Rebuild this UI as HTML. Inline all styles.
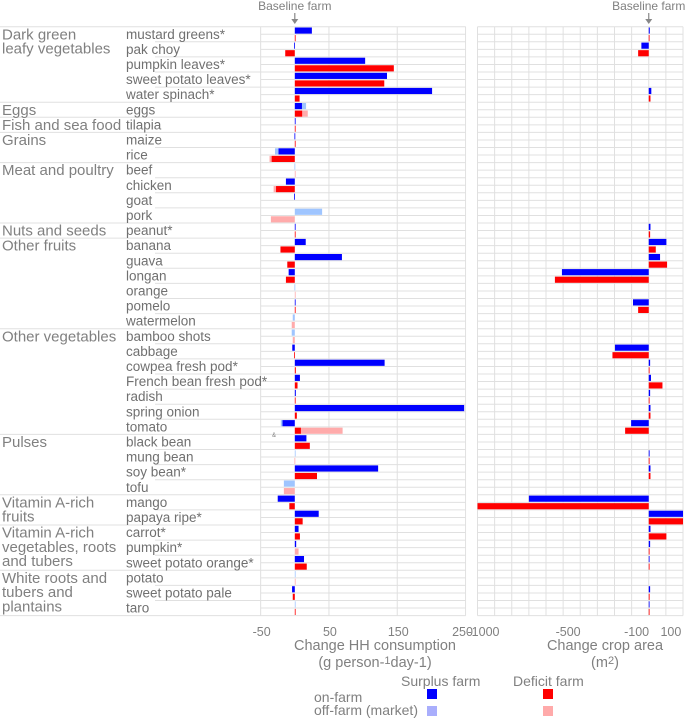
<!DOCTYPE html>
<html><head><meta charset="utf-8"><style>
html,body{margin:0;padding:0;background:#fff;}
svg{display:block;font-family:"Liberation Sans",Arial,sans-serif;}
</style></head><body>
<svg id="chart" width="685" height="719" viewBox="0 0 685 719"></svg>
<script>
const items=["mustard greens*","pak choy","pumpkin leaves*","sweet potato leaves*","water spinach*","eggs","tilapia","maize","rice","beef","chicken","goat","pork","peanut*","banana","guava","longan","orange","pomelo","watermelon","bamboo shots","cabbage","cowpea fresh pod*","French bean fresh pod*","radish","spring onion","tomato","black bean","mung bean","soy bean*","tofu","mango","papaya ripe*","carrot*","pumpkin*","sweet potato orange*","potato","sweet potato pale","taro"];
const groupNames=["Dark green|leafy vegetables","Eggs","Fish and sea food","Grains","Meat and poultry","Nuts and seeds","Other fruits","Other vegetables","Pulses","Vitamin A-rich|fruits","Vitamin A-rich|vegetables, roots|and tubers","White roots and|tubers and|plantains"];
const groupStart=[0,5,6,7,9,13,14,20,27,31,33,36];
const surplusOn=[25,-1,103,135,201,10.5,0.5,-0.5,-24,0,-13,-1,0,1,16,69,-9,0,0.5,0,0,-3.7,131.5,7.5,1.5,248,-18,17,0,122,0,-25,35,5.5,2,13.5,0,-4,0];
const surplusOff=[0,0,0,0,0,6,0,0,-5,-0.5,0,0,40,0,0,0,0,-0.5,0,-3,-4.5,0,0,0,0,0,-2.5,0,0.5,0,-16,0,0,0,0,0,0.5,0,0.5];
const deficitOn=[1,-14,145,131,7,11,0.5,1,-34,0,-27.5,0,0,0.5,-21,-11,-13,0,0.5,0,0,-1,1.5,4,0.5,3,9,22,0,32.5,0,-8,11.5,7.5,0,17.5,0,-3,0.5];
const deficitOff=[0,0,0,0,0,8,0,0,-3,0.5,-3.5,0,-35,0,0,0,0,0.5,0,-4.5,-3,0,0,0,0,0,61,0,-0.5,0,-16,0,0,0,5.5,0,0.5,0,0];
const areaSurplus=[6,-43,0,0,15,0,0,0,0,0,0,0,0,10,103,66,-507,0,-92,0,0,-197,8,13,8,10,-103,0,5,10,0,-700,200,10,8,3,0,8,3];
const areaDeficit=[3,-62,0,0,10,0,0,0,0,0,0,0,0,8,41,107,-548,0,-62,0,0,-212,3,80,3,10,-138,0,3,10,0,-1000,200,103,3,3,0,5,3];
const leftTicks=[-50,50,150,250];
const rightTicks=[-1000,-500,-100,100];

const svg=document.getElementById('chart');
const NS="http://www.w3.org/2000/svg";
const TOP=26.7,ROW=15.1,SUB=ROW/2;
const L0=260.7,L1=465.7,R0=477.5,R1=683;
const xL=v=>294.8+v*0.683;
const xR=v=>R0+(v+1000)*(R1-R0)/1200;
const yRow=i=>TOP+i*ROW;
function mk(tag,a,parent){const e=document.createElementNS(NS,tag);for(const k in a)e.setAttribute(k,a[k]);(parent||svg).appendChild(e);return e;}
const N=items.length;

// grid
const grid=mk('g',{});


for(let s=0;s<=2*N;s++){const y=TOP+s*SUB;
  let x0=L0; if(s%2===0){x0=155; if(groupStart.includes(s/2)||s/2===N)x0=0;}
  mk('line',{x1:x0,x2:L1,y1:y,y2:y,stroke:'#e0e0e0','stroke-width':1},grid);
  mk('line',{x1:R0,x2:R1,y1:y,y2:y,stroke:'#e0e0e0','stroke-width':1},grid);}
for(const t of [-50,50,150,250]){mk('line',{x1:xL(t),x2:xL(t),y1:TOP,y2:yRow(N),stroke:'#e0e0e0'},grid);}
for(let v=-1000;v<=200;v+=100){mk('line',{x1:xR(v),x2:xR(v),y1:TOP,y2:yRow(N),stroke:'#e0e0e0'},grid);}

// labels
items.forEach((t,i)=>{const e=mk('text',{x:126,y:yRow(i)+ROW/2+4.5,'font-size':13.5,fill:'#707070'});e.textContent=t;
  
  });
groupNames.forEach((g,j)=>{g.split('|').forEach((ln,k)=>{const e=mk('text',{x:2,y:yRow(groupStart[j])+ROW/2+5+k*14.3,'font-size':15,fill:'#808080'});e.textContent=ln;
  
  });});

// bars
function bar(x1,x2,y,col,name){if(x1===x2)return;const r=mk('rect',{x:Math.min(x1,x2),y:y+0.8,width:Math.max(Math.abs(x2-x1),0.8),height:SUB-1.4,fill:col});
  
  }
for(let i=0;i<N;i++){const ys=yRow(i),yd=yRow(i)+SUB;
  bar(xL(0),xL(surplusOn[i]),ys,'#0000ff','surplus-onfarm-bar');
  bar(xL(surplusOn[i]),xL(surplusOn[i]+surplusOff[i]),ys,'#9fc5ff','surplus-offfarm-bar');
  bar(xL(0),xL(deficitOn[i]),yd,'#ff0000','deficit-onfarm-bar');
  bar(xL(deficitOn[i]),xL(deficitOn[i]+deficitOff[i]),yd,'#ffabab','deficit-offfarm-bar');
  bar(xR(0),xR(Math.max(-1000,Math.min(200,areaSurplus[i]))),ys,'#0000ff','area-surplus-bar');
  bar(xR(0),xR(Math.max(-1000,Math.min(200,areaDeficit[i]))),yd,'#ff0000','area-deficit-bar');}

// ticks
leftTicks.forEach(t=>{const e=mk('text',{x:xL(t)+(t===250?-3:1),y:636,'font-size':12.5,fill:'#808080','text-anchor':'middle'});e.textContent=t;
  
  });
rightTicks.forEach(t=>{const e=mk('text',{x:xR(t)+(t===-1000?6:5),y:636,'font-size':12.5,fill:'#808080','text-anchor':'middle'});e.textContent=t;
  
  });

// baseline markers
[[xL(0),'Baseline farm'],[xR(0),'Baseline  farm']].forEach(([x,t])=>{
  const e=mk('text',{x:x,y:10,'font-size':12,fill:'#808080','text-anchor':'middle','xml:space':'preserve'});e.textContent=t;
  
  
  mk('line',{x1:x,x2:x,y1:13,y2:22,stroke:'#888','stroke-width':1.2});
  mk('path',{d:`M${x-3.5} 19 L${x+3.5} 19 L${x} 24 Z`,fill:'#888'});});
</script>
<svg x="0" y="0" width="0" height="0"></svg>
<div style="position:absolute;left:0;top:0;width:685px;height:719px;pointer-events:none;">
<svg width="685" height="719" style="position:absolute;left:0;top:0;font-family:'Liberation Sans',Arial,sans-serif;">
<text x="375" y="650" font-size="14.5" fill="#808080" text-anchor="middle">Change HH consumption</text>
<text x="375" y="667" font-size="14.5" fill="#808080" text-anchor="middle">(g person-<tspan font-size="11" dy="-3">1</tspan><tspan dy="3">day-1)</tspan></text>
<text x="605" y="650" font-size="14.5" fill="#808080" text-anchor="middle">Change crop area</text>
<text x="605" y="667" font-size="14.5" fill="#808080" text-anchor="middle">(m<tspan font-size="11" dy="-3">2</tspan><tspan dy="3">)</tspan></text>
<text x="272" y="437" font-size="6" fill="#808080">&amp;</text>
<g>
<text x="401" y="686" font-size="14" fill="#808080">Surplus farm</text>
<text x="513" y="686" font-size="14" fill="#808080">Deficit farm</text>
<text x="314" y="702" font-size="14" fill="#808080">on-farm</text>
<text x="314" y="715" font-size="14" fill="#808080">off-farm (market)</text>
<rect x="427" y="689" width="10" height="10" fill="#0000ff"/>
<rect x="427" y="706" width="10" height="10" fill="#a9aefc"/>
<rect x="543" y="689" width="10" height="10" fill="#ff0000"/>
<rect x="543" y="706" width="10" height="10" fill="#ffaaaa"/>
</g>
</svg></div>
</body></html>
